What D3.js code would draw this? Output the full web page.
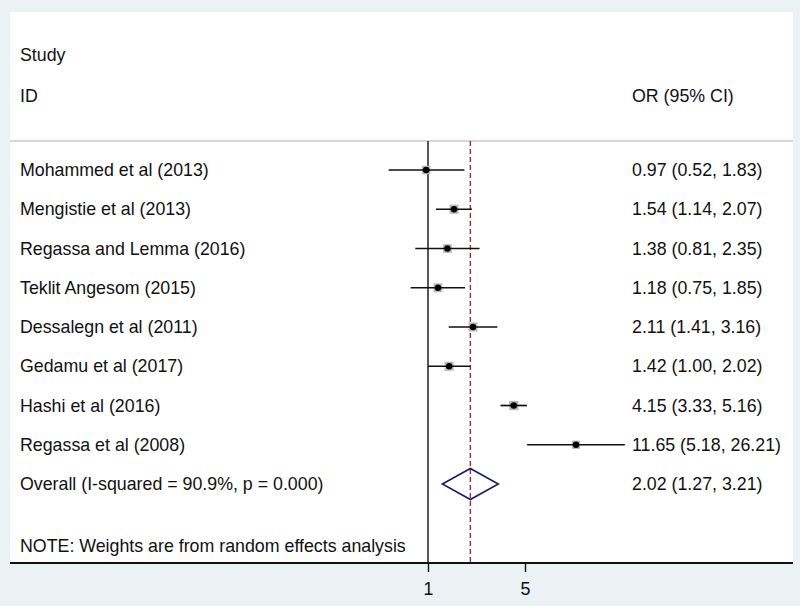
<!DOCTYPE html>
<html>
<head>
<meta charset="utf-8">
<script src="https://cdn.jsdelivr.net/npm/d3@7"></script>
<style>
  html, body { margin: 0; padding: 0; background: #eaf2f3; }
  svg { display: block; }
  text { font-family: "Liberation Sans", Arial, sans-serif; fill: #111; }
</style>
</head>
<body>
<script>
const studies = ["Mohammed et al (2013)", "Mengistie et al (2013)", "Regassa and Lemma (2016)",
  "Teklit Angesom (2015)", "Dessalegn et al (2011)", "Gedamu et al (2017)",
  "Hashi et al (2016)", "Regassa et al (2008)"];
const orValues = [0.97, 1.54, 1.38, 1.18, 2.11, 1.42, 4.15, 11.65];
const lowerCI = [0.52, 1.14, 0.81, 0.75, 1.41, 1.00, 3.33, 5.18];
const upperCI = [1.83, 2.07, 2.35, 1.85, 3.16, 2.02, 5.16, 26.21];
const weights = [11.6, 13.3, 12.0, 12.4, 12.8, 13.1, 13.8, 11.0];
const ciLabels = ["0.97 (0.52, 1.83)", "1.54 (1.14, 2.07)", "1.38 (0.81, 2.35)", "1.18 (0.75, 1.85)",
  "2.11 (1.41, 3.16)", "1.42 (1.00, 2.02)", "4.15 (3.33, 5.16)", "11.65 (5.18, 26.21)"];
const overallLabel = "Overall  (I-squared = 90.9%, p = 0.000)";
const overall = { or: 2.02, lo: 1.27, hi: 3.21, label: "2.02 (1.27, 3.21)" };
const tickValues = [1, 5];
const noteText = "NOTE: Weights are from random effects analysis";

const W = 800, H = 606;
const svg = d3.select("body").append("svg").attr("width", W).attr("height", H);

// plot panel
const panel = { left: 10, right: 793, top: 12, bottom: 563 };
svg.append("rect").attr("x", panel.left).attr("y", panel.top)
  .attr("width", panel.right - panel.left).attr("height", panel.bottom - panel.top)
  .attr("fill", "#ffffff");

const x = d3.scaleLog().domain([1, 5]).range([428, 525]);
const rows = studies.concat(["__overall"]);
const y = d3.scalePoint().domain(rows).range([170, 484]);

const fs = "17.8px";
// header
svg.append("text").attr("x", 20).attr("y", 55).attr("dy", "0.35em").style("font-size", fs).text("Study");
svg.append("text").attr("x", 20).attr("y", 96).attr("dy", "0.35em").style("font-size", fs).text("ID");
svg.append("text").attr("x", 632).attr("y", 96).attr("dy", "0.35em").style("font-size", fs).text("OR (95% CI)");
svg.append("line").attr("x1", panel.left).attr("x2", panel.right).attr("y1", 141).attr("y2", 141)
  .attr("stroke", "#c8c8c8").attr("stroke-width", 1.5);

// null line and overall dashed line
svg.append("line").attr("x1", x(1)).attr("x2", x(1)).attr("y1", 141).attr("y2", panel.bottom)
  .attr("stroke", "#111").attr("stroke-width", 1.4);
svg.append("line").attr("x1", x(overall.or)).attr("x2", x(overall.or)).attr("y1", 141).attr("y2", panel.bottom)
  .attr("stroke", "#a3283f").attr("stroke-width", 1.4).attr("stroke-dasharray", "5,3");

// study rows
const g = svg.append("g");
studies.forEach((s, i) => {
  const yy = y(s);
  g.append("text").attr("x", 20).attr("y", yy).attr("dy", "0.35em").style("font-size", fs).text(s);
  g.append("text").attr("x", 632).attr("y", yy).attr("dy", "0.35em").style("font-size", fs).text(ciLabels[i]);
  const bs = Math.sqrt(weights[i]) * 2.5;
  g.append("rect").attr("x", x(orValues[i]) - bs / 2).attr("y", yy - bs / 2)
    .attr("width", bs).attr("height", bs).attr("fill", "#b8b8b8");
  g.append("line").attr("x1", x(lowerCI[i])).attr("x2", x(upperCI[i])).attr("y1", yy).attr("y2", yy)
    .attr("stroke", "#111").attr("stroke-width", 1.7);
  g.append("circle").attr("cx", x(orValues[i])).attr("cy", yy).attr("r", 3.2).attr("fill", "#000");
});

// overall
const yo = y("__overall");
svg.append("text").attr("x", 20).attr("y", yo).attr("dy", "0.35em").style("font-size", fs).text(overallLabel);
svg.append("text").attr("x", 632).attr("y", yo).attr("dy", "0.35em").style("font-size", fs).text(overall.label);
const dh = 15.5;
svg.append("path")
  .attr("d", `M${x(overall.lo)},${yo} L${x(overall.or)},${yo - dh} L${x(overall.hi)},${yo} L${x(overall.or)},${yo + dh} Z`)
  .attr("fill", "none").attr("stroke", "#1c1c6a").attr("stroke-width", 1.6);

// note
svg.append("text").attr("x", 20).attr("y", 546).attr("dy", "0.35em").style("font-size", fs).text(noteText);

// axis
const axis = d3.axisBottom(x).tickValues(tickValues).tickFormat(d3.format("d")).tickSize(9).tickPadding(10);
const ax = svg.append("g").attr("transform", `translate(0,${panel.bottom})`).call(axis);
ax.select(".domain").remove();
ax.selectAll(".tick line").attr("stroke", "#111").attr("stroke-width", 1.4);
ax.selectAll(".tick text").style("font-size", fs).attr("fill", "#111").style("font-family", "Liberation Sans, Arial, sans-serif");
svg.append("line").attr("x1", panel.left).attr("x2", panel.right).attr("y1", panel.bottom).attr("y2", panel.bottom)
  .attr("stroke", "#111").attr("stroke-width", 2);
</script>
</body>
</html>
